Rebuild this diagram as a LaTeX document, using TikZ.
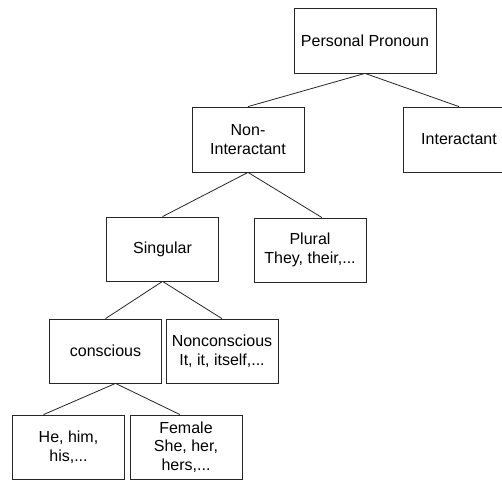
\documentclass[tikz,border=0pt]{standalone}
\usepackage{fontspec}
\setmainfont{Liberation Sans}
\usetikzlibrary{positioning}

\begin{document}
\begin{tikzpicture}[
    x=1pt, y=-1pt,
    box/.style={rectangle, draw=black!85, line width=0.8pt, minimum width=112pt,
                minimum height=64pt, align=center, inner sep=0pt,
                font=\fontsize{16}{18.5}\selectfont},
    link/.style={draw=black!85, line width=0.8pt}
]
    \clip (0,0) rectangle (502,481);

    % === Root ===
    \node[box, minimum width=142pt, minimum height=65pt] (pp) at (365, 40.5) {Personal Pronoun};

    % === Level 1 ===
    \node[box, minimum height=65pt] (nonint) at (248, 139.5) {Non-\\Interactant};
    \node[box, minimum height=65pt] (inter) at (459, 139.5) {Interactant};

    % === Level 2 ===
    \node[box] (singular) at (162.5, 249) {Singular};
    \node[box] (plural) at (310, 250) {Plural\\They, their,...};

    % === Level 3 ===
    \node[box] (conscious) at (105.5, 351) {conscious};
    \node[box] (noncon) at (222, 351) {Nonconscious\\It, it, itself,...};

    % === Level 4 ===
    \node[box] (he) at (68.5, 447) {He, him,\\his,...};
    \node[box] (female) at (186, 447) {Female\\She, her,\\hers,...};

    % Connectors
    \draw[link] (pp.south) -- (nonint.north);
    \draw[link] (pp.south) -- (inter.north);
    \draw[link] (nonint.south) -- ([xshift=12pt]plural.north);
    \draw[link] (nonint.south) -- (singular.north);
    \draw[link] (singular.south) -- (conscious.north);
    \draw[link] (singular.south) -- (noncon.north);
    \draw[link] ([xshift=10pt]conscious.south) -- ([xshift=-25pt]he.north);
    \draw[link] ([xshift=10pt]conscious.south) -- ([xshift=-6pt]female.north);

\end{tikzpicture}
\end{document}
